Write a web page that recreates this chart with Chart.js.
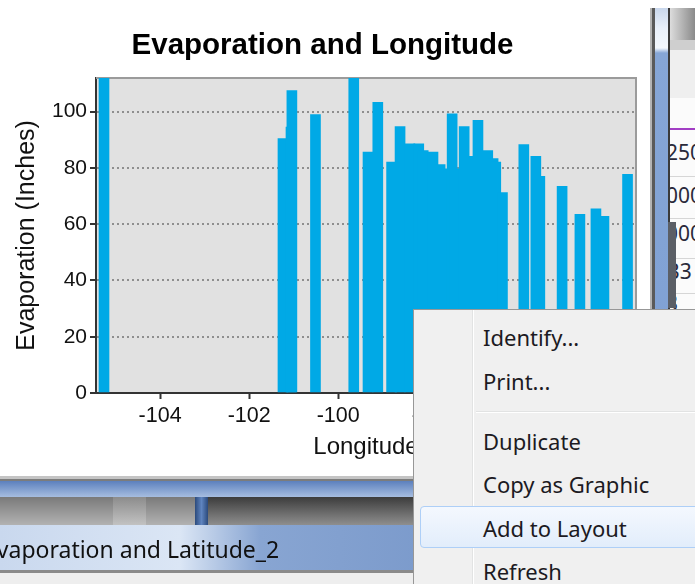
<!DOCTYPE html>
<html><head><meta charset="utf-8">
<script src="https://cdn.jsdelivr.net/npm/chart.js@4.4.1/dist/chart.umd.min.js"></script>
<style>
html,body{margin:0;padding:0;width:695px;height:584px;overflow:hidden;background:#fff;font-family:"Liberation Sans",Arial,sans-serif;}
.a{position:absolute;}
#wrap{position:absolute;left:0;top:0;width:650px;height:478px;}
.mi{position:absolute;left:69px;height:30px;line-height:30px;font-family:"Noto Sans","Open Sans",sans-serif;font-size:22px;color:#1c1a22;white-space:nowrap;}
.rt{position:absolute;left:-4px;font-family:"Noto Sans",sans-serif;font-size:21px;color:#2a2a3a;white-space:nowrap;height:26px;line-height:26px;}
</style></head><body>
<div id="wrap"><canvas id="c" width="650" height="478"></canvas></div>

<!-- right side window chrome -->
<div class="a" style="left:650px;top:8px;width:2px;height:470px;background:#b4b4b4"></div>
<div class="a" style="left:652px;top:8px;width:3px;height:470px;background:#5a5a5a"></div>
<div class="a" style="left:655px;top:8px;width:13px;height:470px;background:linear-gradient(to bottom,#c9d7ec 0px,#e9f0fa 20px,#f4f8fd 40px,#86a6d6 45px,#7d9fd3 100%)"></div>
<div class="a" style="left:668px;top:8px;width:2px;height:470px;background:#3a3a3a"></div>
<div class="a" style="left:670px;top:8px;width:25px;height:470px;background:#fbfbfb;overflow:hidden">
  <div class="a" style="left:0;top:0;width:25px;height:32px;background:linear-gradient(to right,#dcdcdc,#8a8a8a)"></div>
  <div class="a" style="left:0;top:32px;width:25px;height:10px;background:#cfcfcf"></div>
  <div class="a" style="left:0;top:42px;width:25px;height:48px;background:#efefef"></div>
  <div class="a" style="left:0;top:120px;width:25px;height:2px;background:#a23ec4"></div>
  <div class="a" style="left:0;top:168px;width:25px;height:1px;background:#d6d6d6"></div>
  <div class="a" style="left:0;top:210px;width:25px;height:1px;background:#d6d6d6"></div>
  <div class="a" style="left:0;top:250px;width:25px;height:1px;background:#d6d6d6"></div>
  <div class="a" style="left:0;top:285px;width:25px;height:1px;background:#d6d6d6"></div>
  <div class="rt" style="top:131px">250</div>
  <div class="rt" style="top:174px">000</div>
  <div class="rt" style="top:212px">000</div>
  <div class="rt" style="top:250px">B3</div>
  <div class="rt" style="top:282px">3</div>
</div>
<div class="a" style="left:668px;top:222px;width:8px;height:86px;background:#5b5f66"></div>

<!-- bottom window chrome -->
<div class="a" style="left:0;top:476px;width:420px;height:3px;background:#c4c4c4"></div>
<div class="a" style="left:0;top:479px;width:420px;height:2px;background:#7c7c7c"></div>
<div class="a" style="left:0;top:481px;width:420px;height:16px;background:linear-gradient(to bottom,#5c80bd,#a6bde0)"></div>
<div class="a" style="left:0;top:497px;width:195px;height:28px;background:linear-gradient(to bottom,#7a7a7a,#b2b2b2)"></div>
<div class="a" style="left:113px;top:497px;width:33px;height:28px;background:linear-gradient(to bottom,#8c8c8c,#c2c2c2)"></div>
<div class="a" style="left:195px;top:497px;width:13px;height:28px;background:linear-gradient(to right,#2b4a7c,#5f84bf,#2b4a7c)"></div>
<div class="a" style="left:208px;top:497px;width:212px;height:28px;background:linear-gradient(to bottom,#3c3c3c,#6e6e6e 60%,#8e8e8e)"></div>
<div class="a" style="left:0;top:525px;width:420px;height:45px;background:linear-gradient(to right,#c9d8ee 0px,#dbe6f5 180px,#88a5d2 260px,#7c9bcc 420px)"></div>
<div class="a" style="left:-16px;top:533px;height:32px;line-height:32px;font-family:'Noto Sans','Open Sans',sans-serif;font-size:23px;color:#111;white-space:nowrap">Evaporation and Latitude_2</div>
<div class="a" style="left:0;top:570px;width:420px;height:3px;background:#8a8a8a"></div>
<div class="a" style="left:0;top:573px;width:420px;height:11px;background:#eeeeee"></div>

<!-- context menu -->
<div class="a" style="left:413px;top:309px;width:290px;height:290px;background:#f0f0f0;border:1px solid #979797;box-sizing:border-box">
  <div class="a" style="left:58px;top:0;width:1px;height:290px;background:#e2e3e3"></div>
  <div class="a" style="left:59px;top:0;width:1px;height:290px;background:#ffffff"></div>
  <div class="a" style="left:62px;top:101px;width:230px;height:1px;background:#e2e3e3"></div>
  <div class="a" style="left:62px;top:102px;width:230px;height:1px;background:#ffffff"></div>
  <div class="a" style="left:6px;top:196px;width:300px;height:42px;border:1px solid #aecff7;border-radius:4px;box-sizing:border-box;background:linear-gradient(to bottom,#f4f8fe,#e2edfb)"></div>
  <div class="mi" style="top:12px">Identify...</div>
  <div class="mi" style="top:56px">Print...</div>
  <div class="mi" style="top:116px">Duplicate</div>
  <div class="mi" style="top:159px">Copy as Graphic</div>
  <div class="mi" style="top:203px">Add to Layout</div>
  <div class="mi" style="top:246px">Refresh</div>
</div>

<script>
// ---- data ----
const longitudes = [-105.26,-101.24,-101.06,-101.04,-100.51,-99.65,-99.33,-99.11,-98.80,-98.61,-98.39,-98.19,-98.09,-97.87,-97.71,-97.60,-97.44,-97.39,-97.17,-97.08,-96.86,-96.64,-96.52,-96.46,-96.31,-95.83,-95.56,-95.47,-94.97,-94.57,-94.21,-94.03,-93.50];
const evaporation = [115,90.4,94.5,107.5,99.0,115,85.6,103.3,82.1,94.7,88.6,88.6,86.2,85.6,81.2,79.7,99.2,79.7,94.7,84.1,96.9,86.2,83.3,82.1,71.2,88.3,84.1,77.0,73.5,63.5,65.5,62.8,77.7];
const xTickValues = [-104,-102,-100,-98,-96,-94];
const yTickValues = [0,20,40,60,80,100];
const chartTitle = 'Evaporation and Longitude';
const xTitle = 'Longitude';
const yTitle = 'Evaporation (Inches)';

const plotFrame = {
  id: 'plotFrame',
  beforeDraw(chart) {
    const {ctx, chartArea: a} = chart;
    ctx.save();
    ctx.fillStyle = '#e1e1e1';
    ctx.fillRect(a.left, a.top, a.right - a.left, a.bottom - a.top);
    ctx.restore();
  },
  beforeDatasetsDraw(chart) {
    const {ctx, chartArea: a} = chart;
    ctx.save();
    ctx.strokeStyle = '#9b9b9b';
    ctx.lineWidth = 2;
    ctx.beginPath();
    ctx.moveTo(a.left, a.top);
    ctx.lineTo(a.right, a.top);
    ctx.lineTo(a.right, a.bottom);
    ctx.stroke();
    ctx.restore();
  }
};

new Chart(document.getElementById('c'), {
  type: 'bar',
  data: {
    datasets: [{
      data: longitudes.map((x, i) => ({x: x, y: evaporation[i]})),
      backgroundColor: '#00a9e6',
      borderWidth: 0,
      barThickness: 10
    }]
  },
  plugins: [plotFrame],
  options: {
    responsive: false,
    animation: false,
    layout: {padding: {left: 9, right: 14, top: 0, bottom: 0}},
    plugins: {
      legend: {display: false},
      tooltip: {enabled: false},
      title: {
        display: true, text: chartTitle, color: '#000',
        font: {family: '"Liberation Sans", Arial, sans-serif', size: 29.5, weight: 'bold'},
        padding: {top: 28, bottom: 14.5}
      }
    },
    scales: {
      x: {
        type: 'linear', min: -105.44, max: -93.31, offset: false,
        afterBuildTicks: s => { s.ticks = xTickValues.map(v => ({value: v})); },
        afterFit: s => { s.height = 85; },
        grid: {display: true, drawOnChartArea: false, drawTicks: true, tickLength: 6, tickColor: '#333', tickWidth: 2, offset: false},
        border: {display: true, color: '#333', width: 2},
        ticks: {color: '#111', padding: 4, maxRotation: 0, autoSkip: false,
          font: {family: '"Liberation Sans", Arial, sans-serif', size: 21.5}},
        title: {display: true, text: xTitle, color: '#111', padding: {top: 0, bottom: 16},
          font: {family: '"Liberation Sans", Arial, sans-serif', size: 24}}
      },
      y: {
        min: 0, max: 112,
        afterBuildTicks: s => { s.ticks = yTickValues.map(v => ({value: v})); },
        afterFit: s => { s.width = 87; },
        grid: {
          color: c => (c.tick && c.tick.value === 0) ? 'rgba(0,0,0,0)' : '#8e8e8e',
          lineWidth: 2, tickLength: 6, tickColor: '#333', tickWidth: 2
        },
        border: {display: true, color: '#333', width: 2, dash: [2, 3]},
        ticks: {color: '#111', padding: 3,
          font: {family: '"Liberation Sans", Arial, sans-serif', size: 21}},
        title: {display: true, text: yTitle, color: '#111', padding: {top: 3, bottom: 0},
          font: {family: '"Liberation Sans", Arial, sans-serif', size: 25}}
      }
    }
  }
});
</script>
</body></html>
